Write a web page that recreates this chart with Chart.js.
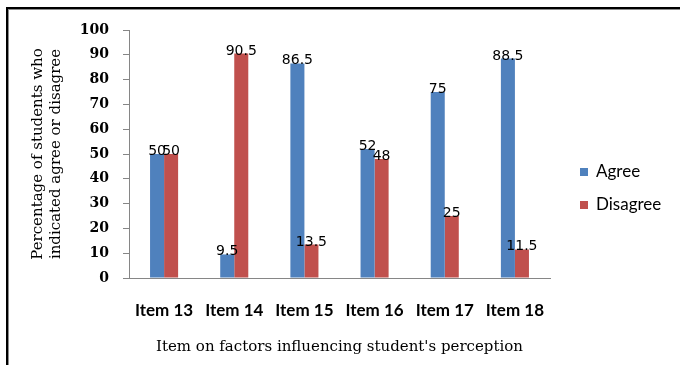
<!DOCTYPE html>
<html>
<head>
<meta charset="utf-8">
<script src="https://cdn.jsdelivr.net/npm/chart.js@4.4.1/dist/chart.umd.min.js"></script>
<style>
  body { margin: 0; background: #fff; }
  #wrap { position: relative; width: 680px; height: 365px; }
  #myChart { position: absolute; left: 0; top: 0; }
  #frame {
    position: absolute; left: 6px; top: 7px; right: 0; bottom: 0;
    border-top: 2px solid #000; border-left: 2px solid #000;
    box-shadow: inset 1px 1px 0 #8c8c8c;
    pointer-events: none;
  }
</style>
</head>
<body>
<div id="wrap">
  <canvas id="myChart" width="680" height="365"></canvas>
  <div id="frame"></div>
</div>
<script>
const items = ['Item 13', 'Item 14', 'Item 15', 'Item 16', 'Item 17', 'Item 18'];
const agree = [50, 9.5, 86.5, 52, 75, 88.5];
const disagree = [50, 90.5, 13.5, 48, 25, 11.5];
const yTicks = [0, 10, 20, 30, 40, 50, 60, 70, 80, 90, 100];

const axisGrey = '#868686';

// value printed on top of every bar
const barValues = {
  id: 'barValues',
  afterDatasetsDraw(chart) {
    const ctx = chart.ctx;
    ctx.save();
    ctx.font = '14px "DejaVu Sans"';
    ctx.fillStyle = '#000';
    ctx.textAlign = 'center';
    ctx.textBaseline = 'alphabetic';
    chart.data.datasets.forEach((ds, i) => {
      chart.getDatasetMeta(i).data.forEach((bar, j) => {
        ctx.fillText(String(ds.data[j]), bar.x, bar.y + 1);
      });
    });
    ctx.restore();
  }
};

// legend on the right, squares + names
const sideLegend = {
  id: 'sideLegend',
  afterDraw(chart) {
    const ctx = chart.ctx;
    const area = chart.chartArea;
    const x = area.right + 30;
    const y0 = (area.top + area.bottom) / 2 + 18;
    ctx.save();
    ctx.font = '17px Lato';
    ctx.textBaseline = 'middle';
    ctx.textAlign = 'left';
    chart.data.datasets.forEach((ds, i) => {
      const y = y0 + i * 33;
      ctx.fillStyle = ds.backgroundColor;
      ctx.fillRect(x, y - 4, 8, 8);
      ctx.fillStyle = '#000';
      ctx.fillText(ds.label, x + 16, y);
    });
    ctx.restore();
  }
};

const ctx = document.getElementById('myChart');

new Chart(ctx, {
  type: 'bar',
  data: {
    labels: items,
    datasets: [{
      label: 'Agree',
      data: agree,
      backgroundColor: '#4F81BD'
    }, {
      label: 'Disagree',
      data: disagree,
      backgroundColor: '#C0504D'
    }]
  },
  options: {
    responsive: false,
    animation: false,
    devicePixelRatio: 1,
    categoryPercentage: 0.4,
    barPercentage: 1,
    layout: { padding: { left: 0, top: 30, right: 130, bottom: 0 } },
    plugins: {
      legend: { display: false },
      tooltip: { enabled: false }
    },
    scales: {
      x: {
        grid: { display: false, drawTicks: false },
        border: { display: true, color: axisGrey, width: 1 },
        ticks: {
          color: '#000',
          padding: 22,
          font: { family: 'Lato', size: 17, weight: 'bold' }
        },
        title: {
          display: true,
          text: "Item on factors influencing student's perception",
          color: '#000',
          font: { family: 'DejaVu Serif', size: 15 },
          padding: { top: 0, bottom: 9 }
        },
        afterFit(scale) { scale.height = 87; }
      },
      y: {
        min: 0,
        max: 100,
        afterBuildTicks(scale) { scale.ticks = yTicks.map(v => ({ value: v })); },
        grid: {
          display: true,
          drawOnChartArea: false,
          drawTicks: true,
          tickLength: 6,
          color: axisGrey
        },
        border: { display: true, color: axisGrey, width: 1 },
        ticks: {
          color: '#000',
          padding: 14,
          font: { family: 'DejaVu Serif', size: 14, weight: 'bold' }
        },
        title: {
          display: true,
          text: ['Percentage of students who', 'indicated agree or disagree'],
          color: '#000',
          font: { family: 'DejaVu Serif', size: 15, lineHeight: 1.2 },
          padding: { top: 29, bottom: 0 }
        },
        afterFit(scale) { scale.width = 129; }
      }
    }
  },
  plugins: [barValues, sideLegend]
});
</script>
</body>
</html>
